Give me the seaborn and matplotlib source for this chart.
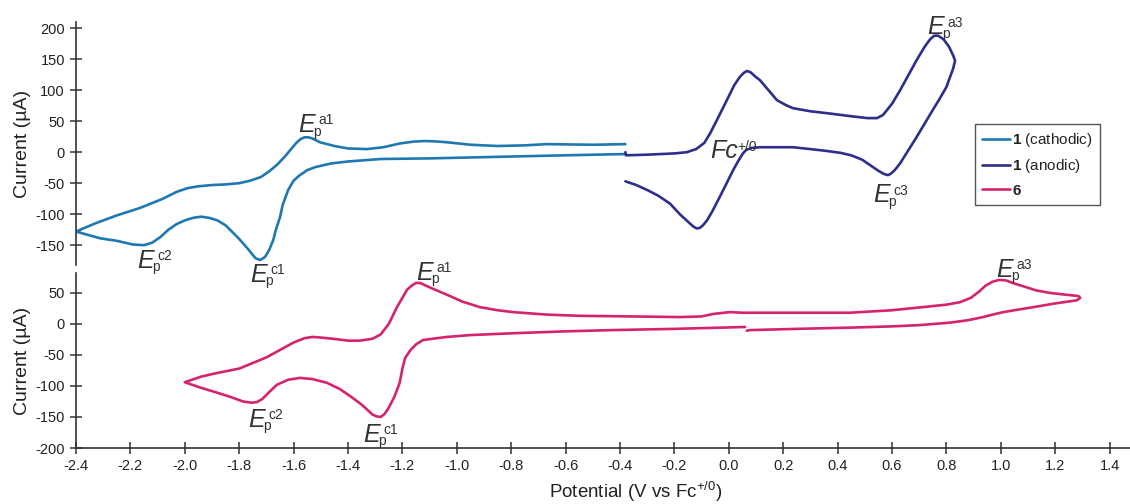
import matplotlib
matplotlib.use("Agg")
import matplotlib.pyplot as plt
import seaborn as sns
import pandas as pd

# ---------------- data ----------------
# compound 1, cathodic scan (starts at -0.38 V, goes negative, returns)
cath_x = [-0.38, -0.6, -0.9, -1.1, -1.28, -1.40, -1.46, -1.52, -1.55, -1.58, -1.60, -1.62,
          -1.64, -1.65, -1.665, -1.675, -1.69, -1.705, -1.723, -1.74, -1.755, -1.77, -1.80,
          -1.82, -1.85, -1.88, -1.91, -1.94, -1.97, -2.0, -2.03, -2.06, -2.09, -2.12, -2.15,
          -2.19, -2.25, -2.31, -2.36, -2.40,
          -2.33, -2.25, -2.165, -2.08, -2.03, -1.99, -1.95, -1.90, -1.85, -1.80, -1.76,
          -1.72, -1.69, -1.66, -1.63, -1.613, -1.59, -1.575, -1.56, -1.545, -1.53, -1.503,
          -1.45, -1.40, -1.33, -1.27, -1.21, -1.16, -1.12, -1.08, -1.036, -0.95, -0.85,
          -0.75, -0.67, -0.5, -0.38]
cath_y = [-3, -5, -8, -10, -11, -15, -18, -24, -29, -38, -46, -61,
          -85, -105, -125, -142, -158, -169, -174, -171, -163, -155, -140,
          -131, -118, -110, -106, -104, -106, -110, -116, -125, -137, -146, -150,
          -149, -143, -139, -133, -128,
          -115, -102, -90, -75, -64, -58, -55, -53, -52, -50, -46,
          -40, -31, -20, -6, 3, 15, 21, 24, 24, 22, 16,
          10, 6, 5, 8, 14, 17, 18, 17.5, 16, 12, 10,
          11, 13, 12, 13]

# compound 1, anodic scan (starts at -0.38 V, goes positive, returns)
anod_x = [-0.38, -0.378, -0.30, -0.2, -0.154, -0.12, -0.09, -0.069, -0.04, -0.007, 0.02,
          0.04, 0.055, 0.067, 0.08, 0.095, 0.115, 0.15, 0.177, 0.21, 0.236, 0.30, 0.36,
          0.45, 0.51, 0.545, 0.567, 0.60, 0.63, 0.66, 0.69, 0.72, 0.74, 0.755, 0.77, 0.79,
          0.81, 0.825, 0.832,
          0.825, 0.80, 0.775, 0.75, 0.72, 0.69, 0.66, 0.63, 0.61, 0.595, 0.585, 0.57,
          0.55, 0.53, 0.49, 0.45, 0.41, 0.36, 0.30, 0.236, 0.15, 0.115, 0.085, 0.065,
          0.052, 0.035, 0.016, -0.01, -0.033, -0.06, -0.08, -0.095, -0.106, -0.118,
          -0.13, -0.143, -0.18, -0.216, -0.26, -0.30, -0.34, -0.38]
anod_y = [0, -5, -4, -2, 0, 5, 15, 30, 55, 84, 108,
          121, 128, 131, 129, 123, 116, 98, 84, 76, 71, 66, 63,
          58, 55, 55, 60, 78, 100, 124, 148, 170, 182, 188, 188, 182,
          170, 156, 148,
          135, 105, 86, 68, 46, 24, 3, -18, -29, -35, -37, -35,
          -30, -24, -12, -5, -1, 2, 5, 8, 8, 8, 7, 4,
          -2, -14, -29, -52, -72, -95, -110, -118, -122, -123,
          -120, -115, -100, -83, -70, -61, -53, -47]

# compound 6 (starts near 0.06 V, goes negative, then to +1.29 V, back)
c6_x = [0.06, -0.2, -0.43, -0.6, -0.79, -0.95, -1.036, -1.09, -1.124, -1.15, -1.17,
        -1.19, -1.20, -1.21, -1.23, -1.25, -1.265, -1.28, -1.295, -1.31, -1.33, -1.35,
        -1.39, -1.43, -1.477, -1.53, -1.576, -1.62, -1.661, -1.69, -1.715, -1.735, -1.755,
        -1.786, -1.83, -1.88, -1.94, -2.0,
        -1.94, -1.88, -1.80, -1.75, -1.70, -1.65, -1.60, -1.56, -1.53, -1.50, -1.455,
        -1.40, -1.356, -1.31, -1.28, -1.25, -1.22, -1.20, -1.183, -1.165, -1.15, -1.135,
        -1.12, -1.09, -1.036, -0.98, -0.915, -0.85, -0.793, -0.67, -0.547, -0.35, -0.18,
        -0.10, -0.058, 0.004, 0.05, 0.115, 0.30, 0.446, 0.60, 0.69, 0.80, 0.85, 0.89,
        0.92, 0.945, 0.97, 0.995, 1.02, 1.05, 1.08, 1.13, 1.18, 1.24, 1.285, 1.292,
        1.28, 1.20, 1.12, 1.05, 1.01, 0.97, 0.935, 0.88, 0.813, 0.70, 0.60, 0.446,
        0.25, 0.078, 0.066]
c6_y = [-5, -8, -10, -12, -15, -18, -21, -24, -26, -33, -42,
        -55, -72, -95, -118, -135, -145, -150, -149, -146, -138, -130,
        -117, -105, -95, -89, -87, -90, -98, -110, -121, -126, -127,
        -125, -118, -111, -103, -94,
        -85, -79, -72, -63, -54, -42, -30, -23, -21, -22, -24,
        -27, -27, -24, -17, 0, 27, 42, 55, 62, 66, 66,
        63, 57, 47, 36, 27, 22, 19, 15, 13, 12, 11,
        12, 16, 19, 18, 18, 18, 18, 22, 26, 31, 35, 42,
        52, 62, 68, 71, 70, 65, 61, 54, 50, 47, 45, 42,
        38, 33, 27, 22, 19, 15, 11, 6, 2, -2, -4, -6,
        -8, -10, -11]

legend_labels = [r"$\mathbf{1}$ (cathodic)", r"$\mathbf{1}$ (anodic)", r"$\mathbf{6}$"]
colors = ["#1f78b0", "#2e2e8c", "#d42470"]
top_yticks = [-150, -100, -50, 0, 50, 100, 150, 200]
bot_yticks = [-200, -150, -100, -50, 0, 50]
xticks = [round(-2.4 + 0.2 * i, 1) for i in range(20)]

# ---------------- style ----------------
sns.set_style("white")
plt.rcParams["font.family"] = ["Liberation Sans", "DejaVu Sans"]
plt.rcParams["mathtext.fontset"] = "custom"
plt.rcParams["mathtext.rm"] = "Liberation Sans"
plt.rcParams["mathtext.it"] = "Liberation Sans:italic"
plt.rcParams["mathtext.bf"] = "Liberation Sans:bold"
plt.rcParams["axes.unicode_minus"] = False
TXT = "#222222"
SP = "#333333"

fig = plt.figure(figsize=(11.3, 5.04), dpi=100)
ax1 = fig.add_axes([0.06726, 0.4742, 0.9327, 0.4821])
ax2 = fig.add_axes([0.06726, 0.1111, 0.9327, 0.3472])

df_c = pd.DataFrame({"x": cath_x, "y": cath_y})
df_a = pd.DataFrame({"x": anod_x, "y": anod_y})
df_6 = pd.DataFrame({"x": c6_x, "y": c6_y})

kw = dict(x="x", y="y", sort=False, estimator=None, linewidth=1.9)
sns.lineplot(data=df_c, ax=ax1, color=colors[0], label=legend_labels[0], **kw)
sns.lineplot(data=df_a, ax=ax1, color=colors[1], label=legend_labels[1], **kw)
sns.lineplot(data=df_6, ax=ax2, color=colors[2], label=legend_labels[2], **kw)
for ax in (ax1, ax2):
    for ln in ax.get_lines():
        ln.set_solid_joinstyle("round")
        ln.set_solid_capstyle("round")

for ax in (ax1, ax2):
    ax.set_xlim(-2.4, 1.475)
    ax.patch.set_alpha(0)
    for s in ("top", "right"):
        ax.spines[s].set_visible(False)
    for s in ("left", "bottom"):
        ax.spines[s].set_color(SP)
        ax.spines[s].set_linewidth(1.2)
    ax.tick_params(direction="inout", length=8, width=1.1, color=SP,
                   labelsize=10.5, labelcolor=TXT, pad=4, left=True, bottom=True)
    ax.set_ylabel("Current (µA)", fontsize=14, color=TXT, labelpad=3)

ax1.spines["bottom"].set_visible(False)
ax1.set_ylim(-182, 210)
ax1.set_yticks(top_yticks)
ax1.set_xticks([])
ax1.tick_params(axis="x", bottom=False)
ax1.set_xlabel("")

ax2.set_ylim(-200, 82)
ax2.set_yticks(bot_yticks)
ax2.set_xticks(xticks)
ax2.set_xticklabels([f"{v:.1f}" for v in xticks])
ax2.tick_params(axis="x", pad=4)
ax2.set_xlabel(r"Potential (V vs Fc$^{+/0}$)", fontsize=13.5, color=TXT)
ax2.xaxis.set_label_coords(0.531, -0.185)

# legend
h1, l1 = ax1.get_legend_handles_labels()
h2, l2 = ax2.get_legend_handles_labels()
if ax2.get_legend():
    ax2.get_legend().remove()
leg = ax1.legend(h1 + h2, l1 + l2, loc="upper left",
                 bbox_to_anchor=(975 / 1130, 1 - 124 / 504), bbox_transform=fig.transFigure,
                 borderaxespad=0, fontsize=11, handlelength=1.85, handletextpad=0.15,
                 borderpad=0.45, labelspacing=0.55, fancybox=False, framealpha=1)
leg.get_frame().set_edgecolor("#555555")
leg.get_frame().set_linewidth(1.0)
for t in leg.get_texts():
    t.set_color(TXT)


def peak_label(ax, x, y, sup, base="E", sub="p", dsup=14.8, dsub=10.8):
    ax.annotate(base, (x, y), xycoords="data", fontsize=18, style="italic",
                ha="left", va="baseline", color="#333333", annotation_clip=False)
    if sub:
        ax.annotate(sub, (x, y), xycoords="data", xytext=(dsub, -2.4),
                    textcoords="offset points", fontsize=10, ha="left",
                    va="baseline", color="#333333", annotation_clip=False)
    ax.annotate(sup, (x, y), xycoords="data", xytext=(dsup, 13.6),
                textcoords="offset points", fontsize=10, ha="left", va="top",
                color="#333333", annotation_clip=False)


peak_label(ax1, -1.584, 32, "a1")
peak_label(ax1, -2.176, -187, "c2")
peak_label(ax1, -1.76, -209, "c1")
peak_label(ax1, 0.729, 190, "a3")
peak_label(ax1, 0.53, -81, "c3")
peak_label(ax1, -0.069, -10, "+/0", base="Fc", sub=None, dsup=19.6)

peak_label(ax2, -1.15, 71, "a1")
peak_label(ax2, 0.982, 76, "a3")
peak_label(ax2, -1.768, -166, "c2")
peak_label(ax2, -1.345, -190, "c1")

fig.savefig("out.png", dpi=100)
